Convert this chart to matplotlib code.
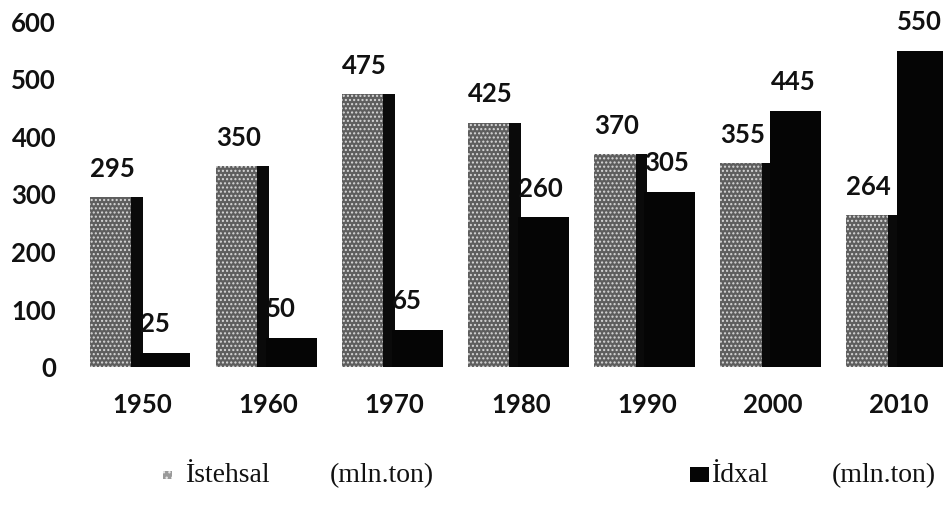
import matplotlib
matplotlib.use("Agg")
import matplotlib.pyplot as plt
from matplotlib.patches import Rectangle
import numpy as np

years = ["1950", "1960", "1970", "1980", "1990", "2000", "2010"]
istehsal = [295, 350, 475, 425, 370, 355, 264]
idxal = [25, 50, 65, 260, 305, 445, 550]
yticks = [0, 100, 200, 300, 400, 500, 600]

W, H, DPI = 943, 508, 100
fig = plt.figure(figsize=(W / DPI, H / DPI), dpi=DPI)
fig.patch.set_facecolor("white")

ax_left, ax_right = 70, 943
ax_bottom, ax_top = 367, 22  # pixel rows from the top
ax = fig.add_axes([ax_left / W, (H - ax_bottom) / H,
                   (ax_right - ax_left) / W, (ax_bottom - ax_top) / H])

x = np.arange(len(years))
sans = "Lato"
fs = 18.5

# grey (production) bars with speckled look
ax.bar(x - 0.25, istehsal, width=0.34, color="#5e5e5e", edgecolor="#d8d8d8",
       hatch="....", linewidth=0, zorder=2)
# dark side face of grey bars
ax.bar(x - 0.045, istehsal, width=0.09, color="#0a0a0a", linewidth=0, zorder=2)
# black (import) bars
ax.bar(x + 0.18, idxal, width=0.40, color="#050505", linewidth=0, zorder=3)

for xi, v in zip(x, istehsal):
    ax.annotate(str(v), (xi - 0.24, v), xytext=(0, 14.5), textcoords="offset points",
                ha="center", va="baseline", fontsize=fs, fontweight="bold",
                family=sans, color="#111111", zorder=5, annotation_clip=False)
for xi, v in zip(x, idxal):
    ax.annotate(str(v), (xi - 0.02, v), xytext=(0, 15), textcoords="offset points",
                ha="left", va="baseline", fontsize=fs, fontweight="bold",
                family=sans, color="#111111", zorder=5, annotation_clip=False)

c0 = 142.5
unit = 126.1
ax.set_xlim(-(c0 - ax_left) / unit, (ax_right - c0) / unit)
ax.set_ylim(0, 600)
ax.set_xticks(x)
ax.set_xticklabels(years)
ax.set_yticks(yticks)
ax.set_yticklabels([str(t) for t in yticks])
for lab in ax.get_xticklabels() + ax.get_yticklabels():
    lab.set_fontfamily(sans)
    lab.set_fontweight("bold")
    lab.set_fontsize(fs)
    lab.set_color("#111111")
ax.tick_params(axis="x", length=0, pad=19)
ax.tick_params(axis="y", length=0, pad=10)
for s in ax.spines.values():
    s.set_visible(False)
ax.set_facecolor("none")

# legend (manual)
serif = "Liberation Serif"
lfs = 20
base_y = (H - 482) / H
fig.add_artist(Rectangle((163 / W, (H - 479) / H), 9 / W, 8 / H,
                         transform=fig.transFigure, facecolor="#9a9a9a",
                         edgecolor="#e6e6e6", hatch="...", linewidth=0))
fig.text(185 / W, base_y, "İstehsal", fontsize=lfs, family=serif, va="baseline",
         color="#111111")
fig.text(330 / W, base_y, "(mln.ton)", fontsize=lfs, family=serif, va="baseline",
         color="#111111")
fig.add_artist(Rectangle((690 / W, (H - 482) / H), 19 / W, 15 / H,
                         transform=fig.transFigure, facecolor="#050505",
                         linewidth=0))
fig.text(711 / W, base_y, "İdxal", fontsize=lfs, family=serif, va="baseline",
         color="#111111")
fig.text(832 / W, base_y, "(mln.ton)", fontsize=lfs, family=serif, va="baseline",
         color="#111111")

fig.savefig("out.png", dpi=DPI, facecolor="white")
